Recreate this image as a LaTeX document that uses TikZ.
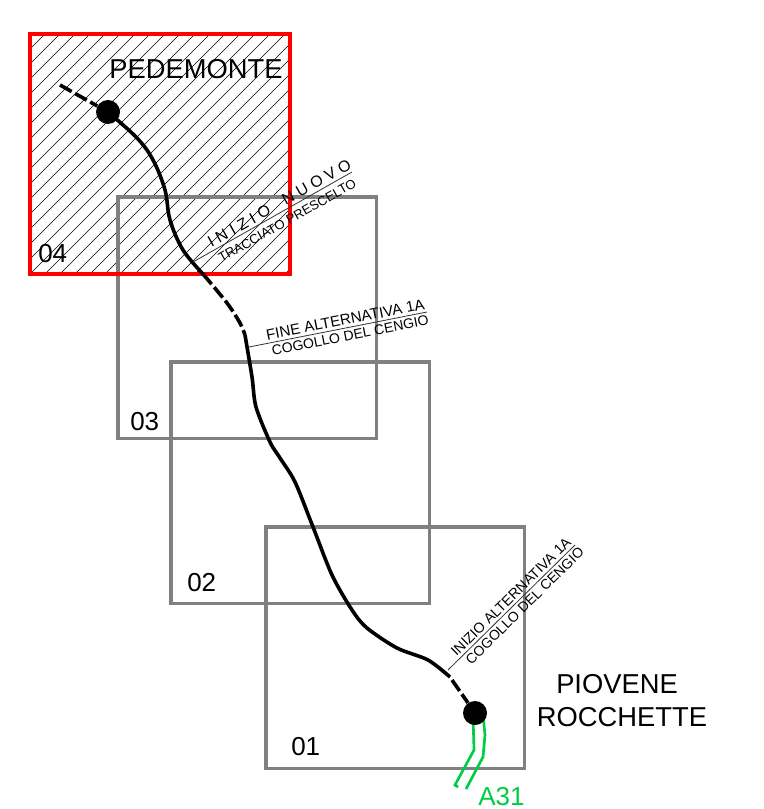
\documentclass[tikz,border=0pt]{standalone}
\usepackage{xcolor}
\usepackage{fontspec}
\setmainfont{Liberation Sans}
\definecolor{roadgreen}{RGB}{0,204,68}
\begin{document}
\begin{tikzpicture}[x=0.75pt, y=-0.75pt]
    \tikzstyle{sheet} = [rectangle, draw=black!50, line width=2.5pt, anchor=north west, outer sep=0pt, minimum width=194pt, minimum height=181pt]
    \tikzstyle{sheetred} = [sheet, draw=red, line width=2.6pt, minimum width=195pt, minimum height=180pt]
    \tikzstyle{sheetlabel} = [anchor=base west, inner sep=0pt, font=\fontsize{19.5}{23}\selectfont]
    \tikzstyle{place} = [anchor=base, inner sep=0pt, font=\fontsize{20.5}{24}\selectfont]
    \tikzstyle{note} = [sloped, inner sep=2pt, font=\fontsize{11}{13}\selectfont]
    \tikzstyle{leader} = [line width=0.6pt, draw=black!80]
    \tikzstyle{route} = [line width=2.7pt, black]
    \tikzstyle{routedash} = [route, dash pattern=on 10pt off 3pt]
    \tikzstyle{stop} = [circle, fill=black, inner sep=0pt, minimum size=18pt]
    \tikzstyle{road} = [line width=2pt, roadgreen]
    \useasboundingbox (0,0) rectangle (763,809);

    % Hatching of sheet 04
    \begin{scope}
        \clip (30,34) rectangle (290,274);
        \foreach \d in {45,60,...,540} {
            \draw [line width=0.4pt] (\d,34) -- ++(-240,240);
        }
    \end{scope}

    % Sheets
    \node [sheet] (sheet03) at (118,197) {};
    \node [sheet] (sheet02) at (171,362) {};
    \node [sheet] (sheet01) at (266,527) {};
    \node [sheetred] (sheet04) at (30,34) {};

    % Sheet numbers
    \node [sheetlabel] (num04) at (38,262) {04};
    \node [sheetlabel] (num03) at (130,430) {03};
    \node [sheetlabel] (num02) at (187,591) {02};
    \node [sheetlabel] (num01) at (291,755) {01};

    % Places
    \node [place] (pedemonte) at (196,79) {PEDEMONTE};
    \node [place] (piovene) at (617,693) {PIOVENE};
    \node [place] (rocchette) at (622,726) {ROCCHETTE};
    \node [sheetlabel, text=roadgreen] (a31) at (478,805) {A31};

    % Motorway
    \coordinate (road_a) at (473,715);
    \coordinate (road_b) at (483,715);
    \coordinate (road_a_end) at (458,787);
    \coordinate (road_b_end) at (466,789);
    \draw [road] (road_a) -- (474,750) -- (455,785) -- (road_a_end);
    \draw [road] (road_b) -- (485,735) -- (483,757) -- (road_b_end);

    % Stops and route breaks
    \node [stop] (stop_north) at (108,112) {};
    \node [stop] (stop_south) at (475,713) {};
    \coordinate (north_end) at (60,85);
    \coordinate (break_a) at (203,274);
    \coordinate (break_b) at (245,335);
    \coordinate (break_c) at (450,677);

    % Route
    \draw [routedash] (north_end) -- (stop_north);
    \draw [route] plot [smooth, tension=0.6] coordinates {(stop_north) (137,138) (153,160) (165,190) (170,220) (183,250) (break_a)};
    \draw [routedash] plot [smooth] coordinates {(break_a) (227,303) (240,323) (break_b)};
    \draw [route] plot [smooth, tension=0.5] coordinates {(break_b) (252,377) (256,407) (270,442) (280,458) (295,482) (313,527) (332,575) (352,610) (367,628) (397,648) (428,660) (break_c)};
    \draw [routedash] ([shift={(2,3)}]break_c) -- (stop_south);

    % Leaders
    \coordinate (lead_a) at (193,262);
    \coordinate (lead_a_end) at (352,172);
    \coordinate (lead_b) at (249,347);
    \coordinate (lead_b_end) at (427,312);
    \coordinate (lead_c) at (448,670);
    \coordinate (lead_c_end) at (575,545);
    \draw [leader] (lead_a) -- node [note, above, pos=0.57, font=\fontsize{12}{14}\selectfont] {I N I Z I O\quad N U O V O} node [note, below, pos=0.56, inner sep=4pt, font=\fontsize{9.8}{12}\selectfont] {TRACCIATO PRESCELTO} (lead_a_end);
    \draw [leader] (lead_b) -- node [note, above, pos=0.55, font=\fontsize{11.3}{13}\selectfont] {FINE ALTERNATIVA 1A} node [note, below, pos=0.56, font=\fontsize{10.5}{13}\selectfont] {COGOLLO DEL CENGIO} (lead_b_end);
    \draw [leader] (lead_c) -- node [note, above, pos=0.54, font=\fontsize{10.7}{13}\selectfont] {INIZIO ALTERNATIVA 1A} node [note, below, pos=0.56, font=\fontsize{10.5}{13}\selectfont] {COGOLLO DEL CENGIO} (lead_c_end);
\end{tikzpicture}
\end{document}
